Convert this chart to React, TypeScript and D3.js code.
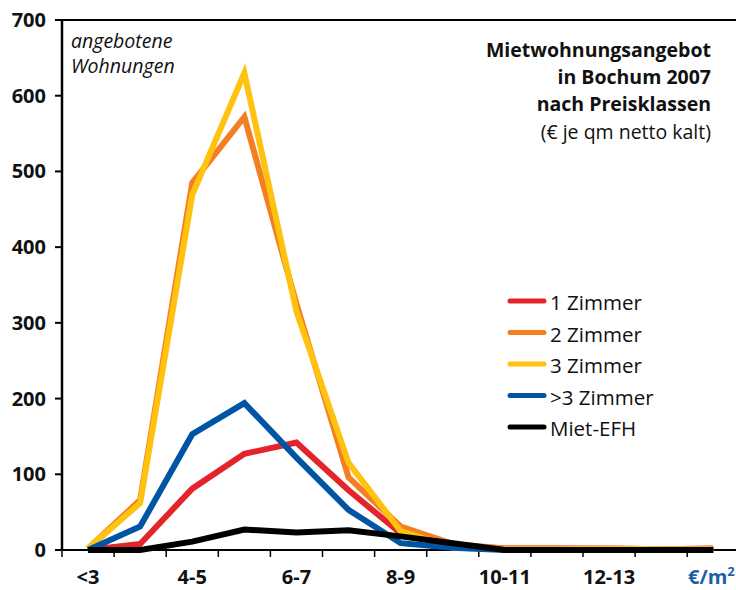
import React from "react";
import * as d3 from "d3";

const categories = ["<3", "3-4", "4-5", "5-6", "6-7", "7-8", "8-9", "9-10", "10-11", "11-12", "12-13", "13-14", ">14"];
const xTickLabels = ["<3", "", "4-5", "", "6-7", "", "8-9", "", "10-11", "", "12-13", "", ""];
const yTicks = [0, 100, 200, 300, 400, 500, 600, 700];

const zimmer1 = [0, 8, 81, 127, 142, 79, 22, 6, 2, 2, 2, 1, 2];
const zimmer2 = [2, 66, 485, 572, 325, 96, 31, 8, 2, 2, 1, 1, 1];
const zimmer3 = [2, 62, 469, 630, 315, 115, 25, 3, 1, 1, 2, 1, 1];
const zimmer4 = [0, 31, 153, 194, 122, 53, 9, 3, 0, 0, 0, 0, 0];
const mietEfh = [0, 0, 11, 27, 23, 26, 18, 9, 0, 0, 0, 0, 0];

const seriesNames = ["1 Zimmer", "2 Zimmer", "3 Zimmer", ">3 Zimmer", "Miet-EFH"];
const seriesColors = ["#e3242b", "#f47f22", "#ffc20e", "#0054a4", "#000000"];
const seriesValues = [zimmer1, zimmer2, zimmer3, zimmer4, mietEfh];

const titleLines = ["Mietwohnungsangebot", "in Bochum 2007", "nach Preisklassen"];
const subtitle = "(€ je qm netto kalt)";
const yLabelLines = ["angebotene", "Wohnungen"];

const W = 736;
const H = 590;
const FONT = "'Open Sans', 'Noto Sans', sans-serif";

export default function App() {
  const left = 62;
  const bw = 52.1;
  const x = d3
    .scaleBand<string>()
    .domain(categories)
    .range([left, left + bw * categories.length])
    .paddingInner(0)
    .paddingOuter(0);
  const y = d3.scaleLinear().domain([0, 700]).range([550, 20]);

  const line = d3
    .line<number>()
    .x((_, i) => (x(categories[i]) as number) + x.bandwidth() / 2)
    .y((d) => y(d));

  const boundaries = d3.range(categories.length + 1).map((i) => left + i * x.bandwidth());

  return (
    <svg
      width={W}
      height={H}
      style={{ position: "absolute", left: 0, top: 0, background: "#fff" }}
      fontFamily={FONT}
    >
      {/* frame: top line, y axis, x axis */}
      <line x1={55} x2={W} y1={y(700)} y2={y(700)} stroke="#000" strokeWidth={2} />
      <line x1={left} x2={left} y1={y(700)} y2={y(0)} stroke="#000" strokeWidth={2.5} />
      <line x1={55} x2={W} y1={y(0)} y2={y(0)} stroke="#000" strokeWidth={2} />

      {yTicks.map((t) => (
        <g key={t}>
          <line x1={55} x2={left} y1={y(t)} y2={y(t)} stroke="#000" strokeWidth={2} />
          <text x={46} y={y(t) + 7} textAnchor="end" fontSize={20} fontWeight={700} fill="#111">
            {t}
          </text>
        </g>
      ))}

      {boundaries.map((b, i) => (
        <line key={i} x1={b} x2={b} y1={y(0)} y2={y(0) + 7} stroke="#000" strokeWidth={1.5} />
      ))}

      {categories.map((c, i) =>
        xTickLabels[i] ? (
          <text
            key={c}
            x={(x(c) as number) + x.bandwidth() / 2}
            y={584}
            textAnchor="middle"
            fontSize={20}
            fontWeight={700}
            fill="#111"
          >
            {xTickLabels[i]}
          </text>
        ) : null
      )}
      <text x={688} y={584} fontSize={20} fontWeight={700} fill="#1d5fa8">
        €/m<tspan dy={-8} fontSize={13}>2</tspan>
      </text>

      {/* series lines */}
      {seriesValues.map((vals, i) => (
        <path
          key={seriesNames[i]}
          d={line(vals) || ""}
          fill="none"
          stroke={seriesColors[i]}
          strokeWidth={6}
          strokeLinejoin="miter"
        />
      ))}

      {/* y label */}
      {yLabelLines.map((t, i) => (
        <text key={t} x={71} y={48 + i * 25} fontSize={19.5} fontStyle="italic" fill="#111">
          {t}
        </text>
      ))}

      {/* title */}
      {titleLines.map((t, i) => (
        <text key={t} x={711} y={57 + i * 27} textAnchor="end" fontSize={19.5} fontWeight={700} fill="#111">
          {t}
        </text>
      ))}
      <text x={711} y={139} textAnchor="end" fontSize={19.5} fill="#111">
        {subtitle}
      </text>

      {/* legend */}
      {seriesNames.map((n, i) => {
        const ly = 301 + i * 31.5;
        return (
          <g key={n}>
            <line x1={510} x2={544} y1={ly} y2={ly} stroke={seriesColors[i]} strokeWidth={5} strokeLinecap="round" />
            <text x={550} y={ly + 9} fontSize={20.5} fill="#111">
              {n}
            </text>
          </g>
        );
      })}
    </svg>
  );
}
